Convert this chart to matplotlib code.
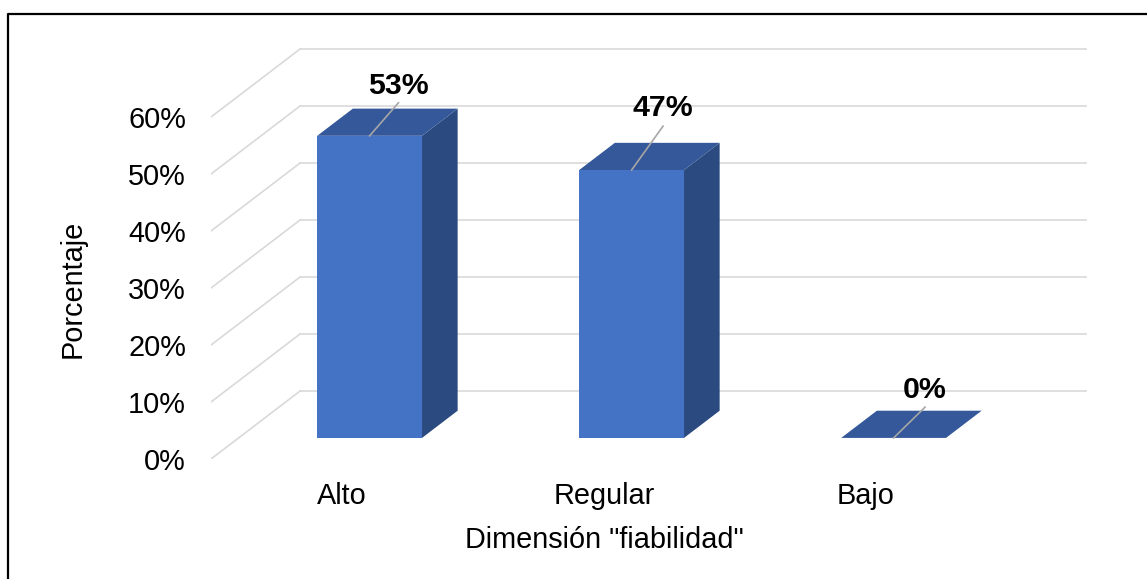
import matplotlib
matplotlib.use('Agg')
import matplotlib.pyplot as plt
from matplotlib.patches import Polygon
from matplotlib.lines import Line2D

plt.rcParams['font.family'] = ['Liberation Sans', 'DejaVu Sans']

##################################################################
# Data
##################################################################
categories = ['Alto', 'Regular', 'Bajo']
values = [53, 47, 0]
value_labels = ['53%', '47%', '0%']
yticks = [0, 10, 20, 30, 40, 50, 60]
ytick_labels = ['0%', '10%', '20%', '30%', '40%', '50%', '60%']
xlabel = 'Dimensión "fiabilidad"'
ylabel = 'Porcentaje'

# oblique "3D" projection: full floor depth expressed in data units
DX, DY = 0.34, 11.93
T0, T1 = 0.31, 0.71   # front / back depth of the bars
W = 0.4               # bar width in category units

# leader line and label placement per bar (data units)
leader_dx = [0.11, 0.12, 0.12]
leader_dy = [5.8, 7.7, 5.4]
label_dy = [7.4, 9.5, 7.0]

c_front = '#4472C4'
c_top = '#34589A'
c_side = '#2B4A80'
c_grid = '#D9D9D9'

##################################################################
# Plot figure
##################################################################
fig = plt.figure(figsize=(11.47, 5.79), dpi=100)
ax = fig.add_axes([211/1147, (579-459)/579, (1100-211)/1147, (459-20)/579])
ax.set_xlim(-0.5, -0.5 + 889/262)
ax.set_ylim(0, 439/5.7)
for s in ax.spines.values():
    s.set_visible(False)

ax.set_yticks(yticks)
ax.set_yticklabels(ytick_labels, fontsize=20.8)
ax.set_xticks(range(len(categories)))
ax.set_xticklabels(categories, fontsize=20.8)
ax.tick_params(axis='y', length=0, pad=18)
ax.tick_params(axis='x', length=0, pad=16.5)

# side wall diagonals and back wall gridlines
n = len(categories)
for v in yticks:
    ax.plot([-0.5, -0.5 + DX], [v, v + DY], color=c_grid, lw=1.2, zorder=1)
    ax.plot([-0.5 + DX, n - 0.5 + DX], [v + DY, v + DY], color=c_grid, lw=1.2, zorder=1)

ddx = (T1 - T0) * DX
ddy = (T1 - T0) * DY
for i, v in enumerate(values):
    x0 = i - W/2 + T0*DX
    x1 = i + W/2 + T0*DX
    y0 = T0*DY
    side = [(x1, y0), (x1 + ddx, y0 + ddy), (x1 + ddx, y0 + v + ddy), (x1, y0 + v)]
    top = [(x0, y0 + v), (x1, y0 + v), (x1 + ddx, y0 + v + ddy), (x0 + ddx, y0 + v + ddy)]
    front = [(x0, y0), (x1, y0), (x1, y0 + v), (x0, y0 + v)]
    ax.add_patch(Polygon(side, closed=True, fc=c_side, ec='none', zorder=3))
    ax.add_patch(Polygon(top, closed=True, fc=c_top, ec='none', zorder=3))
    ax.add_patch(Polygon(front, closed=True, fc=c_front, ec='none', zorder=3))

    # leader line from the top edge up to the value label
    sx, sy = i + T0*DX, y0 + v
    ax.plot([sx, sx + leader_dx[i]], [sy, sy + leader_dy[i]],
            color='#A6A6A6', lw=1.2, zorder=4, clip_on=False)
    ax.text(sx + leader_dx[i], sy + label_dy[i], value_labels[i], fontsize=21.8,
            fontweight='bold', ha='center', va='baseline', zorder=5)

ax.text(1, -15.6, xlabel, fontsize=20.8, ha='center', va='baseline')
fig.text(73/1147, 1 - 289/579, ylabel, fontsize=20.8, rotation=90,
         ha='center', va='center')

# outer frame (left and top edges only)
fig.add_artist(Line2D([8/1147, 8/1147, 1], [0, 1 - 14/579, 1 - 14/579],
                      color='black', lw=1.6))

plt.savefig('out.png', dpi=100)
